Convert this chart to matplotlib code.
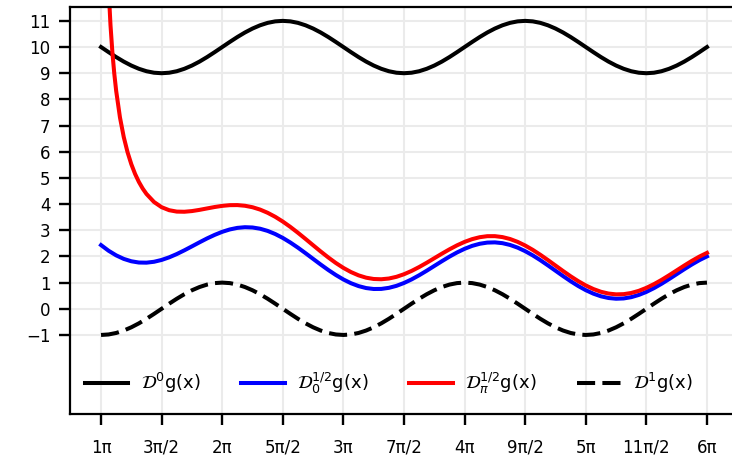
import numpy as np
import matplotlib
matplotlib.use('Agg')
from matplotlib import pyplot as plt

# x positions in units of pi (step pi/16)
x_pi = [1.0, 1.0625, 1.125, 1.1875, 1.25, 1.3125, 1.375, 1.4375,
        1.5, 1.5625, 1.625, 1.6875, 1.75, 1.8125, 1.875, 1.9375,
        2.0, 2.0625, 2.125, 2.1875, 2.25, 2.3125, 2.375, 2.4375,
        2.5, 2.5625, 2.625, 2.6875, 2.75, 2.8125, 2.875, 2.9375,
        3.0, 3.0625, 3.125, 3.1875, 3.25, 3.3125, 3.375, 3.4375,
        3.5, 3.5625, 3.625, 3.6875, 3.75, 3.8125, 3.875, 3.9375,
        4.0, 4.0625, 4.125, 4.1875, 4.25, 4.3125, 4.375, 4.4375,
        4.5, 4.5625, 4.625, 4.6875, 4.75, 4.8125, 4.875, 4.9375,
        5.0, 5.0625, 5.125, 5.1875, 5.25, 5.3125, 5.375, 5.4375,
        5.5, 5.5625, 5.625, 5.6875, 5.75, 5.8125, 5.875, 5.9375, 6.0]

# D^0 g(x)
g0 = [10.0, 9.805, 9.617, 9.444, 9.293, 9.169, 9.076, 9.019,
      9.0, 9.019, 9.076, 9.169, 9.293, 9.444, 9.617, 9.805,
      10.0, 10.195, 10.383, 10.556, 10.707, 10.831, 10.924, 10.981,
      11.0, 10.981, 10.924, 10.831, 10.707, 10.556, 10.383, 10.195,
      10.0, 9.805, 9.617, 9.444, 9.293, 9.169, 9.076, 9.019,
      9.0, 9.019, 9.076, 9.169, 9.293, 9.444, 9.617, 9.805,
      10.0, 10.195, 10.383, 10.556, 10.707, 10.831, 10.924, 10.981,
      11.0, 10.981, 10.924, 10.831, 10.707, 10.556, 10.383, 10.195,
      10.0, 9.805, 9.617, 9.444, 9.293, 9.169, 9.076, 9.019,
      9.0, 9.019, 9.076, 9.169, 9.293, 9.444, 9.617, 9.805, 10.0]

# D_0^{1/2} g(x)
g_half_0 = [2.434, 2.217, 2.041, 1.906, 1.815, 1.767, 1.762, 1.796,
            1.866, 1.966, 2.091, 2.233, 2.385, 2.539, 2.688, 2.823,
            2.940, 3.031, 3.091, 3.117, 3.106, 3.059, 2.975, 2.856,
            2.707, 2.531, 2.335, 2.124, 1.907, 1.691, 1.483, 1.291,
            1.120, 0.977, 0.867, 0.792, 0.756, 0.759, 0.800, 0.876,
            0.986, 1.122, 1.281, 1.454, 1.636, 1.817, 1.992, 2.152,
            2.291, 2.404, 2.484, 2.529, 2.537, 2.507, 2.439, 2.336,
            2.201, 2.040, 1.857, 1.659, 1.455, 1.250, 1.053, 0.871,
            0.711, 0.578, 0.477, 0.412, 0.384, 0.395, 0.444, 0.529,
            0.645, 0.789, 0.955, 1.135, 1.323, 1.511, 1.692, 1.858, 2.002]

# D_pi^{1/2} g(x) -- blows up at x = pi, finer steps near the start
x_pi_red = [1.03125, 1.0625, 1.078125, 1.09375, 1.109375, 1.125, 1.15625,
            1.1875, 1.21875, 1.25, 1.28125, 1.3125, 1.34375, 1.375,
            1.4375] + x_pi[8:]
g_half_pi = [17.654, 12.238, 10.838, 9.798, 8.984, 8.324, 7.311,
             6.562, 5.983, 5.523, 5.150, 4.845, 4.594, 4.387, 4.079,
             3.881, 3.766, 3.713, 3.707, 3.733, 3.779, 3.834, 3.888,
             3.932, 3.959, 3.962, 3.936, 3.880, 3.790, 3.667, 3.514,
             3.332, 3.127, 2.903, 2.668, 2.428, 2.190, 1.962, 1.750,
             1.562, 1.403, 1.277, 1.188, 1.138, 1.128, 1.156, 1.221,
             1.320, 1.446, 1.595, 1.759, 1.932, 2.105, 2.271, 2.424,
             2.556, 2.661, 2.735, 2.774, 2.775, 2.739, 2.666, 2.557,
             2.417, 2.251, 2.063, 1.861, 1.652, 1.443, 1.242, 1.056,
             0.892, 0.755, 0.650, 0.582, 0.551, 0.559, 0.604, 0.686,
             0.800, 0.941, 1.103, 1.281, 1.466, 1.652, 1.830, 1.994, 2.136]

# D^1 g(x)
g1 = [-1.0, -0.981, -0.924, -0.831, -0.707, -0.556, -0.383, -0.195,
      0.0, 0.195, 0.383, 0.556, 0.707, 0.831, 0.924, 0.981,
      1.0, 0.981, 0.924, 0.831, 0.707, 0.556, 0.383, 0.195,
      0.0, -0.195, -0.383, -0.556, -0.707, -0.831, -0.924, -0.981,
      -1.0, -0.981, -0.924, -0.831, -0.707, -0.556, -0.383, -0.195,
      0.0, 0.195, 0.383, 0.556, 0.707, 0.831, 0.924, 0.981,
      1.0, 0.981, 0.924, 0.831, 0.707, 0.556, 0.383, 0.195,
      0.0, -0.195, -0.383, -0.556, -0.707, -0.831, -0.924, -0.981,
      -1.0, -0.981, -0.924, -0.831, -0.707, -0.556, -0.383, -0.195,
      0.0, 0.195, 0.383, 0.556, 0.707, 0.831, 0.924, 0.981, 1.0]

xtick_pos = [1, 1.5, 2, 2.5, 3, 3.5, 4, 4.5, 5, 5.5, 6]
xtick_labels = ['1π', '3π/2', '2π', '5π/2', '3π', '7π/2', '4π', '9π/2',
                '5π', '11π/2', '6π']
ytick_pos = list(range(-1, 12))

fig = plt.figure(figsize=(7.32, 4.57), dpi=100)
# right edge of the axes runs a bit past the image border, like the reference
ax = fig.add_axes([70 / 732, 43 / 457, 668 / 732, 407 / 457])

lw = 2.9
ax.plot(x_pi, g0, color='black', lw=lw, label=r'$\mathcal{D}^0$g(x)')
ax.plot(x_pi, g_half_0, color='blue', lw=lw, label=r'$\mathcal{D}_0^{1/2}$g(x)')
ax.plot(x_pi_red, g_half_pi, color='red', lw=lw, label=r'$\mathcal{D}_\pi^{1/2}$g(x)')
ax.plot(x_pi, g1, color='black', lw=lw, linestyle=(0, (4.5, 1.8)),
        label=r'$\mathcal{D}^1$g(x)')

ax.set_xlim(0.744, 6.256)
ax.set_ylim(-4.02, 11.53)
ax.set_xticks(xtick_pos)
ax.set_xticklabels(xtick_labels)
ax.set_yticks(ytick_pos)
ax.set_yticklabels([str(v).replace('-', '\u2212') for v in ytick_pos])

ax.grid(True, color='#ebebeb', lw=1.5)
ax.set_axisbelow(True)
for s in ax.spines.values():
    s.set_linewidth(1.6)
ax.tick_params(labelsize=12, length=8, width=1.7, colors='black')
ax.tick_params(axis='x', pad=10)
ax.tick_params(axis='y', pad=6)

ax.legend(loc='center', bbox_to_anchor=(0.4775, 0.076), ncol=4, frameon=False,
          fontsize=13, handlelength=2.4, columnspacing=2.25, handletextpad=0.7)

fig.savefig('out.png', dpi=100)
